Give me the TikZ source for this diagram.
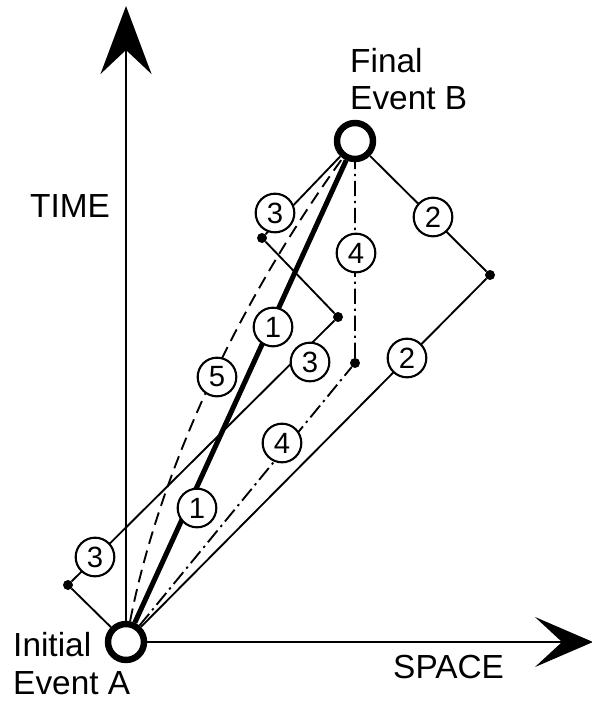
\documentclass[tikz,border=0pt]{standalone}
\usepackage{fontspec}
\setmainfont{Liberation Sans}
\usetikzlibrary{arrows.meta}

\tikzset{
  event/.style={circle, draw, line width=5.5pt, fill=white, minimum size=1.08cm, inner sep=0pt},
  dot/.style={circle, fill, minimum size=0.3cm, inner sep=0pt},
  num/.style={circle, draw, line width=1.8pt, fill=white, minimum size=1.16cm, inner sep=0pt, font=\fontsize{25}{25}\selectfont},
  route/.style={line width=1.6pt},
  axis/.style={line width=1.9pt},
  word/.style={inner sep=0pt, font=\fontsize{28.5}{32.4}\selectfont, align=left}
}

\begin{document}
\begin{tikzpicture}[x=0.03cm, y=-0.03cm]
        \useasboundingbox (0,0) rectangle (592,702);

        % Events and axes
        \node[event] (A) at (126,642) {};
        \node[event] (B) at (355,141) {};
        \coordinate (timeTip) at (126,6);
        \coordinate (spaceTip) at (593,642);
        \draw[axis, -{Stealth[length=2.04cm, width=1.53cm, inset=0.72cm]}] (A) -- (timeTip);
        \draw[axis, -{Stealth[length=1.74cm, width=1.5cm, inset=0.81cm]}] (A) -- (spaceTip);

        % Turning points
        \foreach \nm/\x/\y in {p3a/68/585, p3b/338/317, p3c/262/238, p4/355/363, p2/490/275} {
            \node[dot] (\nm) at (\x,\y) {};
        }

        % Paths
        \draw[route] (A) -- (p3a) -- (p3b) -- (p3c) -- (B);
        \draw[route] (A) -- (p2) -- (B);
        \draw[route, dash pattern=on 13pt off 4pt on 2pt off 4pt] (A) -- (p4) -- (B);
        \draw[route, dash pattern=on 11pt off 6pt] (A) .. controls (159,474) and (235,307) .. (B);
        \draw[line width=4.3pt] (A) -- (B);

        % Path numbers
        \foreach \nm/\x/\y/\n in {n1a/197/508/1, n1b/273/327/1, n2a/407/358/2, n2b/433/217/2,
                                  n3a/95/557/3, n3b/310/362/3, n3c/275/213/3,
                                  n4a/282/443/4, n4b/356/253/4, n5/217/377/5} {
            \node[num] (\nm) at (\x,\y) {\n};
        }

        % Words
        \node[word, anchor=base west] (time) at (30,217) {TIME};
        \node[word, anchor=base west] (space) at (393,678) {SPACE};
        \node[word, anchor=base west] (final) at (350,110) {Final\\Event B};
        \node[word, anchor=base west] (initial) at (13,694) {Initial\\Event A};
\end{tikzpicture}
\end{document}
